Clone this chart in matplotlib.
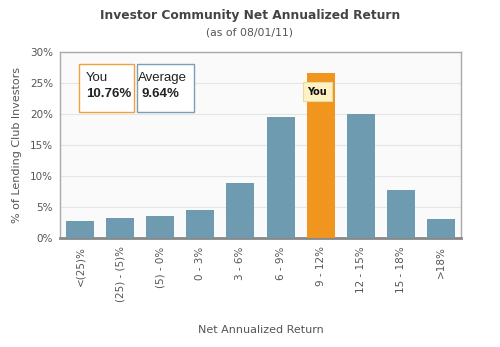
import matplotlib
matplotlib.use("Agg")
import matplotlib.pyplot as plt
import numpy as np

# datos
categorias = ["<(25)%", "(25) - (5)%", "(5) - 0%", "0 - 3%", "3 - 6%",
              "6 - 9%", "9 - 12%", "12 - 15%", "15 - 18%", ">18%"]
porcentajes = [2.8, 3.2, 3.5, 4.5, 8.8, 19.6, 26.7, 20.0, 7.8, 3.0]
idx_usuario = 6
ret_usuario = "10.76%"
ret_promedio = "9.64%"
yticks = [0, 5, 10, 15, 20, 25, 30]

AZUL = "#6f9bb0"
NARANJA = "#f0961e"
GRIS = "#555555"
LEY = dict(family="Liberation Sans", fontsize=9.5, color="#222222",
           va="center", ha="left", zorder=6)

fig = plt.figure(figsize=(5.0, 3.47), dpi=100)
fig.patch.set_facecolor("white")
ax = fig.add_axes([0.12, 0.314, 0.802, 0.536])
ax.set_facecolor("#fafafa")

x = np.arange(len(categorias))
colores = [NARANJA if i == idx_usuario else AZUL for i in x]
ax.bar(x, porcentajes, width=0.7, color=colores, zorder=3)

ax.set_xlim(-0.5, len(categorias) - 0.5)
ax.set_ylim(0, 30)
ax.set_yticks(yticks)
ax.set_yticklabels([f"{v}%" for v in yticks], fontsize=7.5, color=GRIS)
ax.yaxis.grid(True, color="#e6e6e6", lw=0.8, zorder=0)
ax.tick_params(axis="y", length=0, pad=5)
ax.set_xticks(x)
ax.set_xticklabels(categorias, rotation=90, fontsize=7.5, color=GRIS,
                   va="top", ha="center")
ax.tick_params(axis="x", length=0, pad=6)

for lado in ["top", "right", "left"]:
    ax.spines[lado].set_color("#aaaaaa")
    ax.spines[lado].set_linewidth(1.0)
ax.spines["bottom"].set_color("#888888")
ax.spines["bottom"].set_linewidth(2.0)

ax.set_ylabel("% of Lending Club Investors", fontsize=8, color=GRIS, labelpad=6)
ax.set_xlabel("Net Annualized Return", fontsize=8, color=GRIS, labelpad=16)

fig.text(0.5, 0.955, "Investor Community Net Annualized Return", ha="center",
         va="center", fontsize=8.8, fontweight="bold", color="#444444")
fig.text(0.5, 0.905, "(as of 08/01/11)", ha="center", va="center",
         fontsize=7.8, color=GRIS)

# cajas de leyenda
ax.text(0.15, 25.8, "You", **LEY)
ax.text(0.15, 23.2, ret_usuario, fontweight="bold", **LEY)
ax.text(1.445, 25.8, "Average", **LEY)
ax.text(1.52, 23.2, ret_promedio, fontweight="bold", **LEY)
ax.add_patch(plt.Rectangle((-0.03, 20.4), 1.37, 7.7, fill=True, fc="white",
                           ec="#f0a040", lw=1.0, zorder=5))
ax.add_patch(plt.Rectangle((1.42, 20.4), 1.42, 7.7, fill=True, fc="white",
                           ec="#7a9fb5", lw=1.0, zorder=5))

# etiqueta "You" sobre la barra del usuario
ax.text(idx_usuario - 0.08, 23.6, "You", fontsize=7, fontweight="bold",
        color="#111111", ha="center", va="center", zorder=7,
        bbox=dict(boxstyle="square,pad=0.45", fc="#fff3c4", ec="#e8d9a0",
                  lw=0.8))

fig.savefig("out.png", dpi=100)
